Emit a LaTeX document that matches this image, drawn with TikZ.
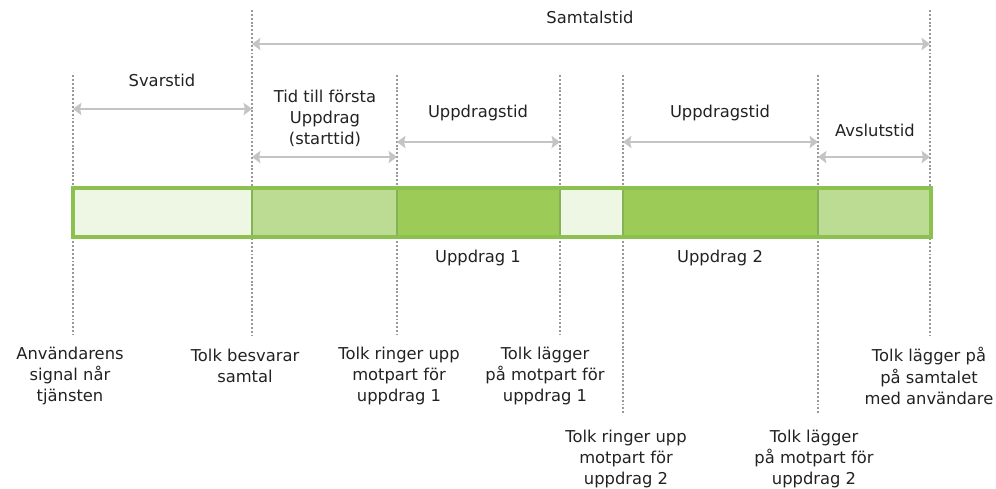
\documentclass[tikz,border=0pt]{standalone}
\usepackage{fontspec}
\setmainfont{DejaVu Sans}
\usepackage{tikz}
\usetikzlibrary{arrows.meta}
\usepackage{xcolor}

\definecolor{tickgray}{HTML}{999999}
\definecolor{spangray}{HTML}{C4C4C4}
\definecolor{barborder}{HTML}{8DC14F}
\definecolor{segline}{HTML}{86B257}
\definecolor{lightfill}{HTML}{EEF6E4}
\definecolor{midfill}{HTML}{BCDC93}
\definecolor{darkfill}{HTML}{9DCB57}
\definecolor{textgray}{HTML}{222222}

\newcommand{\labelfont}{\fontsize{9.3}{12}\selectfont}

\begin{document}
\begin{tikzpicture}[x=0.02cm, y=-0.02cm]
  \useasboundingbox (0,0) rectangle (996,489);

  \tikzstyle{labeltext} = [font=\labelfont, text=textgray, align=center, inner sep=0pt]
  \tikzstyle{tickline} = [draw=tickgray, line width=1.2pt, dash pattern=on 1.1pt off 1.1pt]
  \tikzstyle{spanarrow} = [draw=spangray, line width=1.2pt,
    {Stealth[length=4.8pt, width=7pt, inset=0.8pt]}-{Stealth[length=4.8pt, width=7pt, inset=0.8pt]}]
  \tikzstyle{barseg} = [draw=segline, line width=1.4pt]

  % dotted time marks: x / top / bottom / name
  \foreach \x/\top/\bot/\name in {73/75/335/ta, 252/10/335/tb, 397/75/335/tc,
      560/75/335/td, 623/75/413/te, 818/75/413/tf, 930/10/335/tg} {
    \coordinate (\name) at (\x,\top);
    \coordinate (\name end) at (\x,\bot);
    \draw[tickline] (\name) -- (\name end);
  }

  % arrow levels
  \coordinate (lvlsamtal) at (0,44);
  \coordinate (lvlsvar) at (0,109);
  \coordinate (lvluppdrag) at (0,142);
  \coordinate (lvlstart) at (0,157);

  % the bar
  \draw[barseg, fill=lightfill] (ta |- 0,188) rectangle (tb |- 0,237);
  \draw[barseg, fill=midfill] (tb |- 0,188) rectangle (tc |- 0,237);
  \draw[barseg, fill=darkfill] (tc |- 0,188) rectangle (td |- 0,237);
  \draw[barseg, fill=lightfill] (td |- 0,188) rectangle (te |- 0,237);
  \draw[barseg, fill=darkfill] (te |- 0,188) rectangle (tf |- 0,237);
  \draw[barseg, fill=midfill] (tf |- 0,188) rectangle (931,237);
  \draw[draw=barborder, line width=2.4pt] (ta |- 0,188) rectangle (931,237);

  % spans above the bar
  \node[labeltext] (samtalstid) at (590,17) {Samtalstid};
  \draw[spanarrow] (lvlsamtal -| tb) -- (lvlsamtal -| tg);

  \node[labeltext] (svarstid) at (162,80) {Svarstid};
  \draw[spanarrow] (lvlsvar -| ta) -- (lvlsvar -| tb);

  \node[labeltext] (starttid) at (325,118) {Tid till första\\Uppdrag\\(starttid)};
  \draw[spanarrow] (lvlstart -| tb) -- (lvlstart -| tc);

  \node[labeltext] (uppdragstid1) at (478,113) {Uppdragstid};
  \draw[spanarrow] (lvluppdrag -| tc) -- (lvluppdrag -| td);

  \node[labeltext] (uppdragstid2) at (720,113) {Uppdragstid};
  \draw[spanarrow] (lvluppdrag -| te) -- (lvluppdrag -| tf);

  \node[labeltext] (avslutstid) at (875,130) {Avslutstid};
  \draw[spanarrow] (lvlstart -| tf) -- (lvlstart -| tg);

  % under the bar
  \node[labeltext] (uppdrag1) at (478,258) {Uppdrag 1};
  \node[labeltext] (uppdrag2) at (720,258) {Uppdrag 2};

  % events
  \node[labeltext] (signal) at (70,376) {Användarens\\signal når\\tjänsten};
  \node[labeltext] (besvarar) at (245,366) {Tolk besvarar\\samtal};
  \node[labeltext] (ringer1) at (399,376) {Tolk ringer upp\\motpart för\\uppdrag 1};
  \node[labeltext] (lagger1) at (545,376) {Tolk lägger\\på motpart för\\uppdrag 1};
  \node[labeltext] (ringer2) at (626,459) {Tolk ringer upp\\motpart för\\uppdrag 2};
  \node[labeltext] (lagger2) at (814,459) {Tolk lägger\\på motpart för\\uppdrag 2};
  \node[labeltext] (avslut) at (929,376) {Tolk lägger på\\på samtalet\\med användare};

\end{tikzpicture}
\end{document}
